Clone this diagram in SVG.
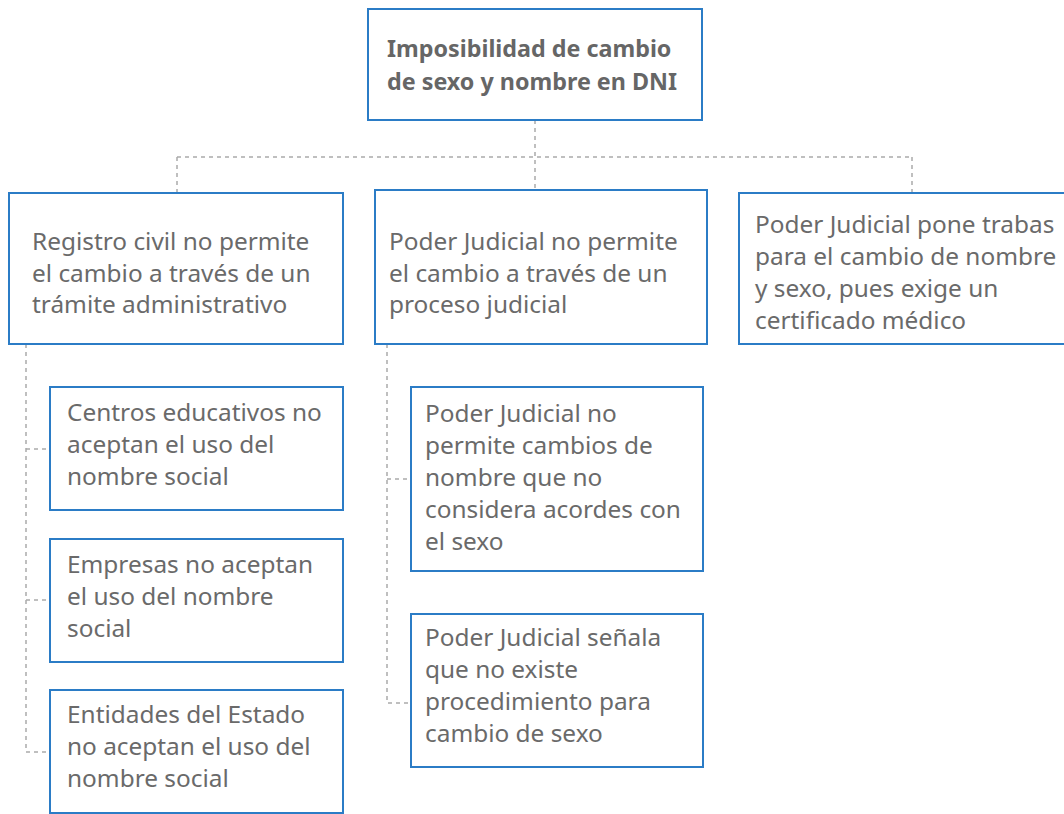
<svg xmlns="http://www.w3.org/2000/svg" width="1064" height="814" viewBox="0 0 1064 814">
<style>
.box{fill:#fff;stroke:#2b7cc6;stroke-width:2}
.t{font-family:"Noto Sans","Open Sans",sans-serif;font-size:24.4px;fill:#6a6a6a}
.tb{font-family:"Noto Sans","Open Sans",sans-serif;font-size:23.3px;font-weight:bold;fill:#666}
.c{fill:none;stroke:#aaa;stroke-width:1.5;stroke-dasharray:4 4}
</style>
<rect width="1064" height="814" fill="#fff"/>
<g id="connectors">
<path class="c" d="M535 120V190"/>
<path class="c" d="M177 157H912"/>
<path class="c" d="M177 157V192"/>
<path class="c" d="M912 157V192"/>
<path class="c" d="M26 344V752H49"/>
<path class="c" d="M26 449H49"/>
<path class="c" d="M26 600H49"/>
<path class="c" d="M387 344V703H411"/>
<path class="c" d="M387 479H411"/>
</g>
<g id="root">
<rect class="box" x="368" y="9" width="334" height="111"/>
<text class="tb" x="387" y="57">Imposibilidad de cambio</text>
<text class="tb" x="387" y="90">de sexo y nombre en DNI</text>
</g>
<g id="n1">
<rect class="box" x="9" y="193" width="334" height="151"/>
<text class="t" x="32" y="250">Registro civil no permite</text>
<text class="t" x="32" y="282">el cambio a través de un</text>
<text class="t" x="32" y="313">trámite administrativo</text>
</g>
<g id="n2">
<rect class="box" x="375" y="190" width="332" height="154"/>
<text class="t" x="389" y="250">Poder Judicial no permite</text>
<text class="t" x="389" y="282">el cambio a través de un</text>
<text class="t" x="389" y="313">proceso judicial</text>
</g>
<g id="n3">
<rect class="box" x="739" y="193" width="340" height="151"/>
<text class="t" x="755" y="233">Poder Judicial pone trabas</text>
<text class="t" x="755" y="265">para el cambio de nombre</text>
<text class="t" x="755" y="297">y sexo, pues exige un</text>
<text class="t" x="755" y="329">certificado médico</text>
</g>
<g id="n1a">
<rect class="box" x="50" y="387" width="293" height="123"/>
<text class="t" x="67" y="421">Centros educativos no</text>
<text class="t" x="67" y="453">aceptan el uso del</text>
<text class="t" x="67" y="485">nombre social</text>
</g>
<g id="n1b">
<rect class="box" x="50" y="539" width="293" height="123"/>
<text class="t" x="67" y="573">Empresas no aceptan</text>
<text class="t" x="67" y="605">el uso del nombre</text>
<text class="t" x="67" y="637">social</text>
</g>
<g id="n1c">
<rect class="box" x="50" y="690" width="293" height="123"/>
<text class="t" x="67" y="723">Entidades del Estado</text>
<text class="t" x="67" y="755">no aceptan el uso del</text>
<text class="t" x="67" y="787">nombre social</text>
</g>
<g id="n2a">
<rect class="box" x="411" y="387" width="292" height="184"/>
<text class="t" x="425" y="422">Poder Judicial no</text>
<text class="t" x="425" y="454">permite cambios de</text>
<text class="t" x="425" y="486">nombre que no</text>
<text class="t" x="425" y="518">considera acordes con</text>
<text class="t" x="425" y="550">el sexo</text>
</g>
<g id="n2b">
<rect class="box" x="411" y="614" width="292" height="153"/>
<text class="t" x="425" y="646">Poder Judicial señala</text>
<text class="t" x="425" y="678">que no existe</text>
<text class="t" x="425" y="710">procedimiento para</text>
<text class="t" x="425" y="742">cambio de sexo</text>
</g>
</svg>
